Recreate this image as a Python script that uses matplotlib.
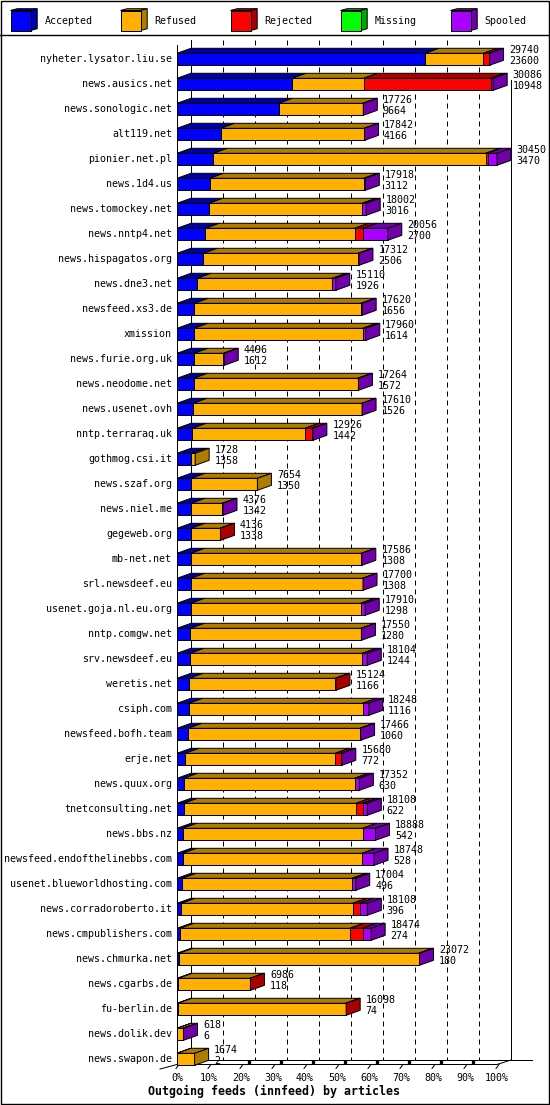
import matplotlib
matplotlib.use('Agg')
import matplotlib.pyplot as plt
from matplotlib.patches import Polygon, Rectangle

hosts = ["nyheter.lysator.liu.se", "news.ausics.net", "news.sonologic.net", "alt119.net",
         "pionier.net.pl", "news.1d4.us", "news.tomockey.net", "news.nntp4.net",
         "news.hispagatos.org", "news.dne3.net", "newsfeed.xs3.de", "xmission",
         "news.furie.org.uk", "news.neodome.net", "news.usenet.ovh", "nntp.terraraq.uk",
         "gothmog.csi.it", "news.szaf.org", "news.niel.me", "gegeweb.org",
         "mb-net.net", "srl.newsdeef.eu", "usenet.goja.nl.eu.org", "nntp.comgw.net",
         "srv.newsdeef.eu", "weretis.net", "csiph.com", "newsfeed.bofh.team",
         "erje.net", "news.quux.org", "tnetconsulting.net", "news.bbs.nz",
         "newsfeed.endofthelinebbs.com", "usenet.blueworldhosting.com", "news.corradoroberto.it",
         "news.cmpublishers.com", "news.chmurka.net", "news.cgarbs.de", "fu-berlin.de",
         "news.dolik.dev", "news.swapon.de"]

offered = [29740, 30086, 17726, 17842, 30450, 17918, 18002, 20056, 17312, 15110,
           17620, 17960, 4496, 17264, 17610, 12926, 1728, 7654, 4376, 4136,
           17586, 17700, 17910, 17550, 18104, 15124, 18248, 17466, 15680, 17352,
           18108, 18888, 18748, 17004, 18108, 18474, 23072, 6986, 16098, 618, 1674]
accepted = [23600, 10948, 9664, 4166, 3470, 3112, 3016, 2700, 2506, 1926,
            1656, 1614, 1612, 1572, 1526, 1442, 1358, 1350, 1342, 1338,
            1308, 1308, 1298, 1280, 1244, 1166, 1116, 1060, 772, 630,
            622, 542, 528, 496, 396, 274, 180, 118, 74, 6, 2]
refused = [5560, 6800, 8040, 13650, 25900, 14656, 14606, 14210, 14750, 12854,
           15864, 16046, 2804, 15623, 16074, 10736, 370, 6304, 2949, 2738,
           16238, 16362, 16172, 16250, 16390, 13883, 16552, 16346, 14277, 16262,
           16415, 17126, 17077, 16162, 16326, 16164, 22812, 6828, 15964, 540, 1672]
rejected = [540, 12100, 0, 0, 180, 0, 0, 760, 0, 0,
            0, 0, 0, 0, 0, 690, 0, 0, 0, 60,
            0, 0, 0, 0, 0, 75, 0, 0, 536, 0,
            630, 0, 0, 0, 662, 1230, 0, 40, 60, 0, 0]
missing = [0, 0, 0, 0, 0, 0, 0, 0, 0, 0,
           0, 0, 0, 0, 0, 0, 0, 0, 0, 0,
           0, 0, 0, 0, 0, 0, 0, 0, 0, 0,
           0, 0, 0, 0, 0, 0, 0, 0, 0, 0, 0]
spooled = [40, 238, 22, 26, 900, 150, 380, 2386, 56, 330,
           100, 300, 80, 69, 10, 58, 0, 0, 85, 0,
           40, 30, 440, 20, 470, 0, 580, 60, 95, 460,
           441, 1220, 1143, 346, 724, 806, 80, 0, 0, 72, 0]

series_names = ["Accepted", "Refused", "Rejected", "Missing", "Spooled"]
front_colors = ["#0000ff", "#ffb000", "#ff0000", "#00ff00", "#aa00ff"]
dark_colors = ["#0000a8", "#b07c00", "#aa0000", "#00a800", "#7000aa"]
tick_labels = ["0%", "10%", "20%", "30%", "40%", "50%", "60%", "70%", "80%", "90%", "100%"]
title = "Outgoing feeds (innfeed) by articles"

FONT = "DejaVu Sans Mono"
FS = 7.2
LW = 0.72

W, H = 550, 1105
fig = plt.figure(figsize=(W / 100, H / 100), dpi=100)
fig.patch.set_facecolor("white")

# background / layout axes in pixel units
bg = fig.add_axes([0, 0, 1, 1])
bg.set_xlim(0, W)
bg.set_ylim(H, 0)
bg.axis("off")
bg.add_patch(Rectangle((0.7, 0.7), W - 2.2, H - 2.2, fill=False, lw=1.0, ec="black"))
bg.plot([0, W - 1.5], [35, 35], color="black", lw=1.0)

# legend cubes
for k, name in enumerate(series_names):
    fx, fy, s, ddx, ddy = 10.5 + 110 * k, 10.5, 20, 6.7, 1.8
    bg.add_patch(Polygon([(fx, fy), (fx + s, fy), (fx + s + ddx, fy - ddy), (fx + ddx, fy - ddy)],
                         closed=True, fc=dark_colors[k], ec="black", lw=LW))
    bg.add_patch(Polygon([(fx + s, fy), (fx + s, fy + s), (fx + s + ddx, fy + s - ddy), (fx + s + ddx, fy - ddy)],
                         closed=True, fc=dark_colors[k], ec="black", lw=LW))
    bg.add_patch(Rectangle((fx, fy), s, s, fc=front_colors[k], ec="black", lw=LW))
    bg.text(fx + 34, 20.5, name, ha="left", va="center", fontsize=FS, family=FONT)

bg.text(274, 1091.5, title, ha="center", va="center", fontsize=8.4, family=FONT, weight="bold")

# data axes: x in percent of max offered, y in rows
ax = fig.add_axes([0, 0, 1, 1], facecolor="none")
X0, PXP, Y0, ROWH = 177.0, 3.2, 59.3, 25.0
ax.set_xlim(-X0 / PXP, (W - X0) / PXP)
ax.set_ylim((H - Y0) / ROWH, -Y0 / ROWH)
ax.axis("off")


def xpx(p):
    return (p - X0) / PXP


def ypx(p):
    return (p - Y0) / ROWH


DX = 14 / PXP
DY = -5 / ROWH
HH = 6 / ROWH

# back wall grid
for k in range(1, 10):
    ax.plot([10 * k + DX] * 2, [ypx(40), ypx(1060)], color="black", lw=LW,
            dashes=(5, 4), zorder=1)
ax.plot([DX, DX], [ypx(40), ypx(1060)], color="black", lw=LW, zorder=1)
ax.plot([100 + DX, 100 + DX], [ypx(80), ypx(1060)], color="black", lw=LW, zorder=1)
ax.plot([0, 0], [ypx(45), ypx(1064.5)], color="black", lw=LW, zorder=1)
# floor
ax.plot([DX, xpx(532)], [ypx(1060), ypx(1060)], color="black", lw=LW, zorder=1)
ax.plot([xpx(160), 0, 100, 100 + DX], [ypx(1069), ypx(1064.5), ypx(1064.5), ypx(1060)],
        color="black", lw=LW, zorder=1)
for k, lab in enumerate(tick_labels):
    x = 10 * k
    ax.plot([x - 1 / PXP, x + 2 / PXP], [ypx(1068.5), ypx(1064.5)], color="black", lw=LW, zorder=1)
    if 2 <= k <= 9:
        ax.plot([x + 8 / PXP], [ypx(1061.5)], marker="s", ms=2, color="black", zorder=1)
    ax.text(x, ypx(1078), lab, ha="center", va="center", fontsize=FS, family=FONT)

maxv = max(offered)
series = [accepted, refused, rejected, missing, spooled]
for i, host in enumerate(hosts):
    ax.text(xpx(172), i, host, ha="right", va="center", fontsize=FS, family=FONT)
    start = 0.0
    last = None
    for s_idx, vals in enumerate(series):
        v = vals[i]
        if v <= 0:
            continue
        a = start
        b = start + v / maxv * 100
        top = i - HH
        ax.add_patch(Polygon([(a, top), (b, top), (b + DX, top + DY), (a + DX, top + DY)],
                             closed=True, fc=dark_colors[s_idx], ec="black", lw=LW, zorder=3))
        ax.add_patch(Rectangle((a, top), b - a, 2 * HH, fc=front_colors[s_idx],
                               ec="black", lw=LW, zorder=3))
        start = b
        last = s_idx
    if last is not None:
        top = i - HH
        ax.add_patch(Polygon([(start, top), (start, top + 2 * HH), (start + DX, top + 2 * HH + DY),
                              (start + DX, top + DY)],
                             closed=True, fc=dark_colors[last], ec="black", lw=LW, zorder=3))
    end = offered[i] / maxv * 100
    ax.text(end + DX + 5.5 / PXP, i - 9.5 / ROWH, str(offered[i]), ha="left", va="center",
            fontsize=FS, family=FONT, zorder=4)
    ax.text(end + DX + 5.5 / PXP, i + 1.5 / ROWH, str(accepted[i]), ha="left", va="center",
            fontsize=FS, family=FONT, zorder=4)

fig.savefig("out.png", dpi=100)
